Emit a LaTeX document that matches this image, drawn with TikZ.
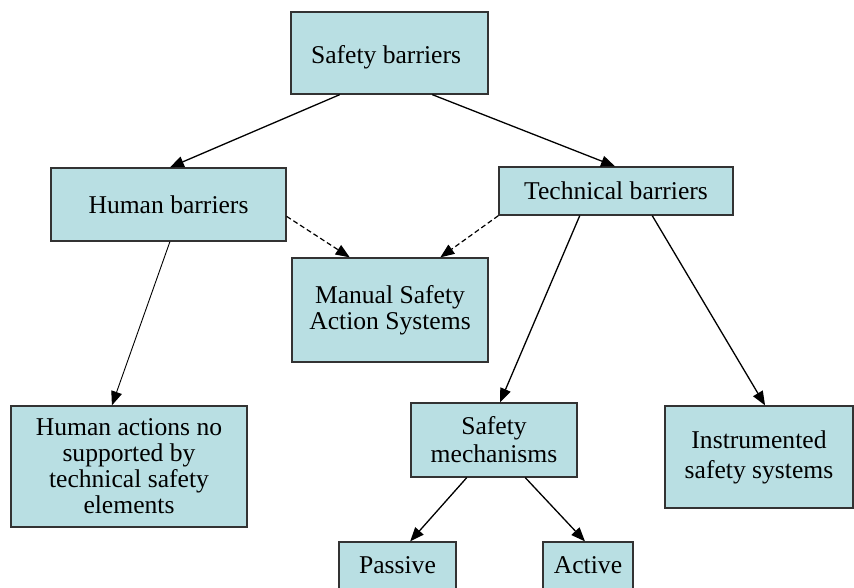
\documentclass[tikz,border=0pt]{standalone}
\usepackage{fontspec}
\setmainfont{Liberation Serif}
\usetikzlibrary{calc,arrows.meta}
\definecolor{boxfill}{HTML}{B9DFE3}
\definecolor{boxline}{HTML}{333333}
\tikzset{
  bx/.style={draw=boxline, line width=1.3pt, fill=boxfill, inner sep=0pt, align=center,
    font=\fontsize{25.6}{26}\selectfont},
  arr/.style={line width=1.3pt, -{Triangle[length=14pt,width=11pt]}},
  thinarr/.style={line width=0.9pt, -{Triangle[length=14pt,width=11pt]}},
  dasharr/.style={line width=1.2pt, dash pattern=on 5pt off 3pt, -{Triangle[length=14pt,width=11pt]}}
}
\begin{document}
\begin{tikzpicture}[x=1pt,y=-1pt]
\useasboundingbox (0,0) rectangle (854,587);
\clip (0,0) rectangle (854,587);
\node[bx, minimum width=197pt, minimum height=82pt] (sb) at (389.5,53) {};
\node[font=\fontsize{25.6}{26}\selectfont, inner sep=0pt] (sbt) at (386,57) {Safety barriers};
\node[bx, minimum width=235pt, minimum height=73pt] (hb) at (168.5,204.5) {Human barriers};
\node[bx, minimum width=234pt, minimum height=48pt] (tb) at (616,191) {Technical barriers};
\node[bx, minimum width=196pt, minimum height=104pt] (ms) at (390,310) {Manual Safety\\Action Systems};
\node[bx, minimum width=236pt, minimum height=121pt] (ha) at (129,466.5) {Human actions no\\supported by\\technical safety\\elements};
\node[bx, minimum width=166pt, minimum height=74pt, font=\fontsize{25.6}{28}\selectfont] (sm) at (494,440) {Safety\\mechanisms};
\node[bx, minimum width=188pt, minimum height=102pt, font=\fontsize{25.6}{30}\selectfont] (is) at (759,457) {Instrumented\\safety systems};
\node[bx, minimum width=117pt, minimum height=100pt] (pa) at (397.5,592) {};
\node[bx, minimum width=90pt, minimum height=100pt] (ac) at (588,592) {};
\node[font=\fontsize{25.6}{26}\selectfont, inner sep=0pt, anchor=base] (pat) at (397.5,573) {Passive};
\node[font=\fontsize{25.6}{26}\selectfont, inner sep=0pt, anchor=base] (act) at (588,573) {Active};
\draw[arr] ($(sb.south west)!0.249!(sb.south east)$) -- ($(hb.north west)!0.506!(hb.north east)$);
\draw[arr] ($(sb.south west)!0.716!(sb.south east)$) -- ($(tb.north west)!0.496!(tb.north east)$);
\draw[dasharr] ($(hb.north east)!0.66!(hb.south east)$) -- ($(ms.north west)!0.296!(ms.north east)$);
\draw[dasharr] (tb.south west) -- ($(ms.north west)!0.755!(ms.north east)$);
\draw[thinarr] ($(hb.south west)!0.506!(hb.south east)$) -- ($(ha.north west)!0.428!(ha.north east)$);
\draw[arr] ($(tb.south west)!0.346!(tb.south east)$) -- ($(sm.north west)!0.536!(sm.north east)$);
\draw[arr] ($(tb.south west)!0.654!(tb.south east)$) -- ($(is.north west)!0.532!(is.north east)$);
\draw[arr] ($(sm.south west)!0.337!(sm.south east)$) -- ($(pa.north west)!0.607!(pa.north east)$);
\draw[arr] ($(sm.south west)!0.687!(sm.south east)$) -- ($(ac.north west)!0.467!(ac.north east)$);
\end{tikzpicture}
\end{document}
